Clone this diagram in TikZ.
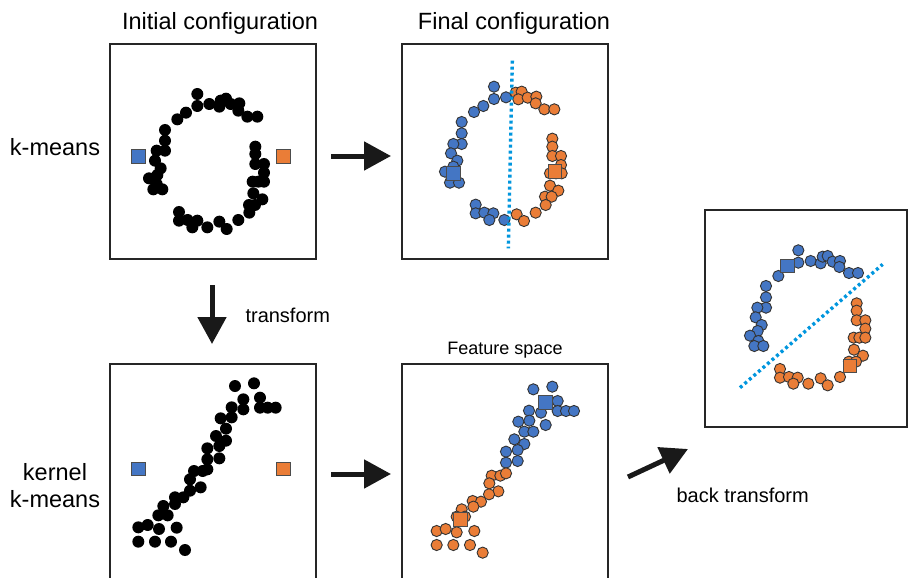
\documentclass[tikz,border=0pt]{standalone}
\usepackage{fontspec}
\setmainfont{Liberation Sans}
\usetikzlibrary{arrows.meta}
\definecolor{cblue}{RGB}{68,118,196}
\definecolor{corange}{RGB}{234,125,55}
\definecolor{cline}{RGB}{0,150,222}
\begin{document}
\begin{tikzpicture}[x=1pt,y=-1pt,
  panel/.style={draw=black!85, line width=2pt},
  bdot/.style={fill=black},
  bldot/.style={fill=cblue, draw=black!80, line width=0.9pt},
  ordot/.style={fill=corange, draw=black!80, line width=0.9pt},
  sqb/.style={rectangle, fill=cblue, draw=black!70, line width=0.9pt, minimum size=13.5pt, inner sep=0pt},
  sqo/.style={rectangle, fill=corange, draw=black!70, line width=0.9pt, minimum size=13.5pt, inner sep=0pt},
  bigarrow/.style={line width=5pt, draw=black!90, -{Triangle[length=27pt,width=28pt]}},
  sep/.style={cline, line width=3.4pt, dash pattern=on 3pt off 3pt},
  title/.style={font=\fontsize{23.5}{28}\selectfont, anchor=base},
  lab/.style={font=\fontsize{20}{24}\selectfont, anchor=base west}]
\useasboundingbox (0,0) rectangle (908,578);
\clip (0,0) rectangle (908,578);
\fill[white] (0,0) rectangle (908,578);

% titles and labels
\node[title] (t1) at (220,30) {Initial configuration};
\node[title] (t2) at (514,30) {Final configuration};
\node[title] (l1) at (55,155) {k-means};
\node[title] (l2a) at (55,480) {kernel};
\node[title] (l2b) at (55,507) {k-means};
\node[font=\fontsize{18}{22}\selectfont, anchor=base] (fs) at (505,354) {Feature space};
\node[lab] (tr) at (242,322) {transform};
\node[lab] (btr) at (673,502) {back transform};

% panels
\draw[panel] (110,44) rectangle (316,259);
\draw[panel] (402,44) rectangle (608,259);
\draw[panel] (110,364) rectangle (316,600);
\draw[panel] (402,364) rectangle (608,600);
\draw[panel] (705,210) rectangle (907,427);

% arrows
\coordinate (a1s) at (331,156); \coordinate (a1e) at (391,156);
\coordinate (a2s) at (331,474); \coordinate (a2e) at (391,474);
\coordinate (a3s) at (212,285); \coordinate (a3e) at (212,344);
\coordinate (a4s) at (628,477); \coordinate (a4e) at (688,449);
\draw[bigarrow] (a1s) -- (a1e);
\draw[bigarrow] (a2s) -- (a2e);
\draw[bigarrow] (a3s) -- (a3e);
\draw[bigarrow] (a4s) -- (a4e);

% panel 1: initial ring
\begin{scope}[shift={(100,40)}, x=0.33333pt, y=-0.33333pt]
\foreach \a/\b in {292/162,292/198,328/192,358/200,362/182,378/176,392/192,418/190,415/212,442/230,472/230,258/218,232/238,195/270,195/302,195/332,170/332,165/362,182/385,172/405,147/415,170/432,160/448,187/448,466/320,466/342,466/372,492/372,492/398,458/425,475/425,492/425,460/460,487/478,447/495,465/495,448/518,415/540,237/516,237/542,263/540,292/542,277/562,322/562,358/545,380/567}
  \fill[bdot] (\a,\b) circle[radius=6pt];
\node[sqb] (s1b) at (115,350) {};
\node[sqo] (s1o) at (550,350) {};
\end{scope}

% panel 2: final ring
\begin{scope}[shift={(395,40)}, x=0.33333pt, y=-0.33333pt]
\foreach \a/\b in {297/140,297/177,333/172,265/198,237/216,200/246,200/280,200/312,175/312,168/340,187/362,175/380,150/395,175/410,165/428,192/428,242/494,242/520,268/518,295/520,283/540,328/540}
  \filldraw[bldot] (\a,\b) circle[radius=5.6pt];
\foreach \a/\b in {362/158,380/155,370/178,398/173,424/170,422/190,448/208,478/208,472/296,472/320,472/348,498/348,498/375,465/400,483/400,500/400,465/437,490/452,450/470,470/470,452/495,422/518,365/523,387/543}
  \filldraw[ordot] (\a,\b) circle[radius=5.6pt];
\node[sqb] (s2b) at (175,400) {};
\node[sqo] (s2o) at (480,395) {};
\coordinate (d2a) at (352,62); \coordinate (d2b) at (340,625);
\draw[sep] (d2a) -- (d2b);
\end{scope}

% panel 3: initial transformed
\begin{scope}[shift={(100,360)}, x=0.33333pt, y=-0.33333pt]
\foreach \a/\b in {405/78,462/70,430/118,480/113,395/142,430/148,480/143,503/143,527/143,362/175,395/172,378/206,348/228,378/242,358/258,322/265,358/295,322/298,282/333,308/333,322/328,270/358,302/382,270/392,225/412,250/412,225/432,190/438,175/466,203/466,115/502,143/495,177/507,230/503,115/545,165/545,213/545,255/570}
  \fill[bdot] (\a,\b) circle[radius=6pt];
\node[sqb] (s3b) at (115,327) {};
\node[sqo] (s3o) at (550,327) {};
\end{scope}

% panel 4: feature space
\begin{scope}[shift={(395,360)}, x=0.33333pt, y=-0.33333pt]
\foreach \a/\b in {415/88,472/80,488/123,402/152,438/158,488/153,513/153,537/153,370/185,403/182,452/195,388/215,415/215,358/238,388/252,333/275,368/270,333/308,368/303}
  \filldraw[bldot] (\a,\b) circle[radius=5.6pt];
\foreach \a/\b in {290/347,316/347,333/340,283/370,310/394,282/403,233/423,258/425,235/440,200/448,185/470,210/470,125/513,152/507,185/517,238/513,125/555,175/555,225/555,263/578}
  \filldraw[ordot] (\a,\b) circle[radius=5.6pt];
\node[sqb] (s4b) at (452,128) {};
\node[sqo] (s4o) at (197,478) {};
\end{scope}

% panel 5: back transformed
\begin{scope}[shift={(700,205)}, x=0.33333pt, y=-0.33333pt]
\foreach \a/\b in {295/136,295/173,332/168,362/175,368/155,383/153,398/170,420/168,418/186,447/204,474/204,235/213,198/243,198/277,198/308,172/308,167/337,185/360,173/378,150/392,175/408,163/423,190/423}
  \filldraw[bldot] (\a,\b) circle[radius=5.6pt];
\foreach \a/\b in {470/295,470/317,470/346,496/346,496/371,461/398,478/398,496/398,462/434,489/452,447/470,468/470,240/492,240/518,267/516,293/518,280/536,325/536,362/520,383/541,420/516}
  \filldraw[ordot] (\a,\b) circle[radius=5.6pt];
\node[sqb] (s5b) at (263,183) {};
\node[sqo] (s5o) at (450,483) {};
\coordinate (d5a) at (120,548); \coordinate (d5b) at (548,178);
\draw[sep] (d5a) -- (d5b);
\end{scope}
\end{tikzpicture}
\end{document}
